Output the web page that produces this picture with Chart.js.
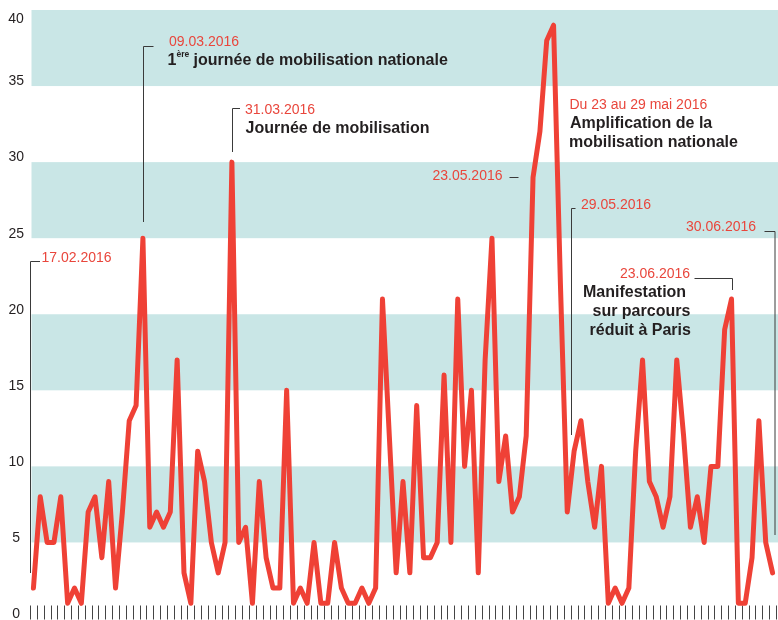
<!DOCTYPE html>
<html lang="fr">
<head>
<meta charset="utf-8">
<title>Mobilisation 2016</title>
<script src="https://cdn.jsdelivr.net/npm/chart.js@4.4.1/dist/chart.umd.min.js"></script>
<style>
  html, body { margin: 0; padding: 0; background: #fff; }
  #wrap { width: 778px; height: 620px; }
</style>
</head>
<body>
<div id="wrap"><canvas id="myChart" width="778" height="620"></canvas></div>
<script>
// Values, 17.02.2016 -> 30.06.2016
const values = [
  2, 8, 5, 5, 8, 1, 2, 1, 7, 8,
  4, 9, 2, 7, 13, 14, 25, 6, 7, 6,
  7, 17, 3, 1, 11, 9, 5, 3, 5, 30,
  5, 6, 1, 9, 4, 2, 2, 15, 1, 2,
  1, 5, 1, 1, 5, 2, 1, 1, 2, 1,
  2, 21, 12, 3, 9, 3, 14, 4, 4, 5,
  16, 5, 21, 10, 15, 3, 17, 25, 9, 12,
  7, 8, 12, 29, 32, 38, 39, 22, 7, 11,
  13, 9, 6, 10, 1, 2, 1, 2, 11, 17,
  9, 8, 6, 8, 17, 12, 6, 8, 5, 10,
  10, 19, 21, 1, 1, 4, 13, 5, 3
];

// one category per point (the axis shows tick marks only)
const categories = values.map((v, i) => 'jour ' + (i + 1));

const yTicks = [0, 5, 10, 15, 20, 25, 30, 35, 40];

// shaded horizontal stripes
const bands = [[5, 10], [15, 20], [25, 30], [35, 40]];

const RED = '#ef4136';
const TEXT_RED = '#e9463c';
const DARK = '#231f20';
const LEADER = '#3a3a3a';
const FONT = '"Liberation Sans", Arial, Helvetica, sans-serif';

// Background stripes + tick marks on the x axis
const backdrop = {
  id: 'backdrop',
  beforeDatasetsDraw(chart) {
    const { ctx, chartArea, scales: { x, y } } = chart;
    ctx.save();
    ctx.fillStyle = '#c9e6e6';
    bands.forEach(([lo, hi]) => {
      const top = y.getPixelForValue(hi);
      const bottom = y.getPixelForValue(lo);
      ctx.fillRect(chartArea.left + 1.5, top, chart.width - chartArea.left - 1.5, bottom - top);
    });

    // tick marks between the days
    const base = Math.round(y.getPixelForValue(0)) + 0.5;
    ctx.strokeStyle = '#444';
    ctx.lineWidth = 1;
    ctx.beginPath();
    for (let i = 0; i <= values.length; i++) {
      const px = Math.round(x.getPixelForDecimal(i / values.length)) + 0.5;
      ctx.moveTo(px, base);
      ctx.lineTo(px, base - 14);
    }
    ctx.stroke();

    // top tick label sits below its line in the print
    const top = yTicks[yTicks.length - 1];
    ctx.font = '14px ' + FONT;
    ctx.fillStyle = DARK;
    ctx.textAlign = 'center';
    ctx.textBaseline = 'middle';
    ctx.fillText(String(top), 16, y.getPixelForValue(top) + 9.5);
    ctx.restore();
  }
};

// Text labels and leader lines
const notes = {
  id: 'notes',
  afterDraw(chart) {
    const { ctx, scales: { x } } = chart;
    const n = values.length;
    const col = i => Math.round(x.getPixelForValue(i)) + 0.5;
    const edge = k => Math.round(x.getPixelForDecimal(k / n)) + 0.5;

    ctx.save();
    ctx.strokeStyle = LEADER;
    ctx.lineWidth = 1;
    const path = pts => {
      ctx.beginPath();
      ctx.moveTo(pts[0][0], pts[0][1]);
      for (let i = 1; i < pts.length; i++) ctx.lineTo(pts[i][0], pts[i][1]);
      ctx.stroke();
    };

    // leaders
    path([[40, 261.5], [edge(0), 261.5], [edge(0), 573]]);
    path([[153.5, 46.5], [col(16), 46.5], [col(16), 222]]);
    path([[240, 108.5], [col(29), 108.5], [col(29), 152]]);
    path([[575.5, 208.5], [edge(79), 208.5], [edge(79), 435]]);
    path([[764.5, 231.5], [edge(n) - 1.5, 231.5], [edge(n) - 1.5, 535]]);
    path([[694.5, 278.5], [col(102), 278.5], [col(102), 290]]);
    path([[509.5, 177.5], [518.5, 177.5]]);

    const red = (t, px, py, align) => {
      ctx.font = '14px ' + FONT;
      ctx.fillStyle = TEXT_RED;
      ctx.textAlign = align || 'left';
      ctx.fillText(t, px, py);
    };
    const bold = (t, px, py) => {
      ctx.font = 'bold 16px ' + FONT;
      ctx.fillStyle = DARK;
      ctx.textAlign = 'left';
      ctx.fillText(t, px, py);
    };
    ctx.textBaseline = 'alphabetic';

    red('17.02.2016', 41.5, 262);

    red('09.03.2016', 169, 46);
    // 1ère with superscript
    bold('1', 167.5, 65);
    let cx = 167.5 + ctx.measureText('1').width;
    ctx.font = 'bold 8.5px ' + FONT;
    ctx.fillText('ère', cx, 56.5);
    cx += ctx.measureText('ère').width;
    bold(' journée de mobilisation nationale', cx, 65);

    red('31.03.2016', 245, 114);
    bold('Journée de mobilisation', 245.5, 133);

    red('Du 23 au 29 mai 2016', 569.5, 108.5);
    bold('Amplification de la', 570, 127.5);
    bold('mobilisation nationale', 569, 146.5);

    red('23.05.2016', 502.5, 180, 'right');
    red('29.05.2016', 581, 209);
    red('30.06.2016', 686, 231);
    red('23.06.2016', 620, 277.5);

    bold('Manifestation', 583, 297);
    bold('sur parcours', 592.5, 316);
    bold('réduit à Paris', 589.5, 335);

    ctx.restore();
  }
};

const ctx = document.getElementById('myChart').getContext('2d');
const myChart = new Chart(ctx, {
  type: 'line',
  data: {
    labels: categories,
    datasets: [{
      label: 'Mobilisation',
      data: values,
      borderColor: RED,
      borderWidth: 5,
      borderJoinStyle: 'round',
      borderCapStyle: 'round',
      pointRadius: 0,
      tension: 0,
      fill: false,
      clip: false
    }]
  },
  options: {
    responsive: false,
    animation: false,
    events: [],
    layout: { padding: { top: 10, right: 2, bottom: 1.5, left: 0 } },
    plugins: {
      legend: { display: false },
      tooltip: { enabled: false }
    },
    scales: {
      x: {
        display: false,
        offset: true
      },
      y: {
        min: yTicks[0],
        max: yTicks[yTicks.length - 1],
        border: { display: false },
        grid: { display: false, drawTicks: false },
        ticks: {
          stepSize: yTicks[1] - yTicks[0],
          crossAlign: 'center',
          padding: 6,
          labelOffset: -4.5,
          color: DARK,
          font: { family: FONT, size: 14 },
          // the top label is placed by the backdrop plugin
          callback: v => (v === yTicks[yTicks.length - 1] ? '' : String(v))
        },
        afterFit(scale) {
          scale.width = 30;
          scale.paddingTop = 0;
          scale.paddingBottom = 0;
        }
      }
    }
  },
  plugins: [backdrop, notes]
});
</script>
</body>
</html>
